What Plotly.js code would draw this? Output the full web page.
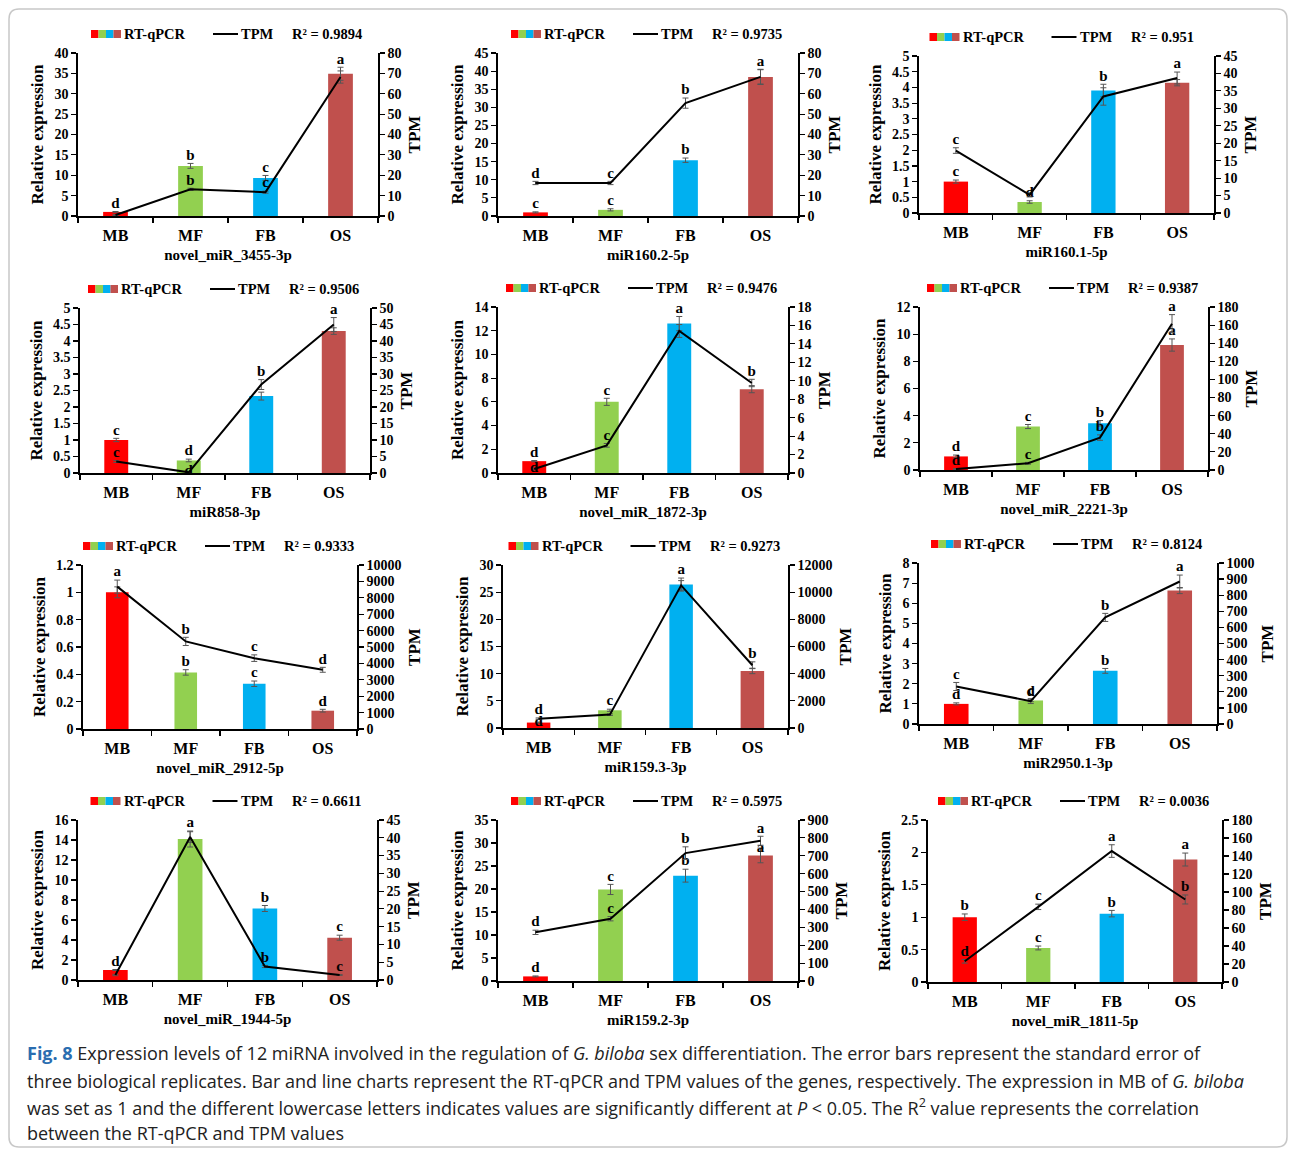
<!DOCTYPE html>
<html><head><meta charset="utf-8">
<script src="https://cdn.plot.ly/plotly-3.0.1.min.js"></script>
<style>body{margin:0;background:#fff}#chart{width:1290px;height:1151px}</style>
</head><body><div id="chart"></div>
<script>
// ---------- DATA ----------
const categories = ['MB', 'MF', 'FB', 'OS'];
const mirnaNames = ['novel_miR_3455-3p', 'miR160.2-5p', 'miR160.1-5p', 'miR858-3p', 'novel_miR_1872-3p', 'novel_miR_2221-3p',
  'novel_miR_2912-5p', 'miR159.3-3p', 'miR2950.1-3p', 'novel_miR_1944-5p', 'miR159.2-3p', 'novel_miR_1811-5p'];
const r2Values = ['0.9894', '0.9735', '0.951', '0.9506', '0.9476', '0.9387', '0.9333', '0.9273', '0.8124', '0.6611', '0.5975', '0.0036'];
const rtqpcr = [
  [1, 12.3, 9.35, 34.9],
  [1, 1.7, 15.4, 38.4],
  [1, 0.35, 3.9, 4.15],
  [1, 0.38, 2.33, 4.3],
  [1, 6.0, 12.6, 7.07],
  [1, 3.2, 3.44, 9.2],
  [1, 0.414, 0.331, 0.134],
  [1, 3.26, 26.4, 10.5],
  [1, 1.17, 2.64, 6.63],
  [1, 14.1, 7.15, 4.23],
  [1, 19.9, 22.9, 27.3],
  [1, 0.525, 1.055, 1.89]
];
const rtqpcrErr = [
  [0.1, 0.6, 0.6, 1.6],
  [0.15, 0.3, 0.6, 2.1],
  [0.05, 0.04, 0.2, 0.1],
  [0.05, 0.04, 0.12, 0.1],
  [0.05, 0.3, 0.6, 0.3],
  [0.1, 0.15, 0.2, 0.45],
  [0.04, 0.02, 0.02, 0.01],
  [0.1, 0.2, 1.2, 0.5],
  [0.05, 0.06, 0.12, 0.15],
  [0.05, 0.8, 0.3, 0.25],
  [0.1, 1.1, 1.4, 1.6],
  [0.05, 0.03, 0.05, 0.1]
];
const tpm = [
  [0.5, 13.1, 11.7, 68.2],
  [16.2, 16.2, 55.4, 68.3],
  [17.9, 5.2, 33.4, 38.7],
  [3.5, 0.2, 26.8, 45],
  [0.43, 3.0, 15.4, 9.76],
  [1, 7.4, 35.8, 161.6],
  [8680, 5340, 4320, 3610],
  [690, 985, 10500, 4620],
  [233, 142, 662, 885],
  [1.4, 40.2, 3.8, 1.4],
  [272, 348, 715, 784],
  [23, 83.5, 145.5, 91.7]
];
const tpmErr = [
  [0.3, 0.5, 0.5, 3],
  [0.8, 0.8, 2.5, 3.5],
  [0.8, 0.6, 2.5, 1.7],
  [0.3, 0.3, 1.5, 2.1],
  [0.1, 0.2, 0.7, 0.4],
  [0.5, 1, 3, 10],
  [400, 250, 200, 150],
  [50, 60, 350, 250],
  [25, 15, 25, 40],
  [0.2, 1.5, 0.3, 0.1],
  [12, 12, 35, 25],
  [2, 3, 7, 5]
];
const barLetters = [
  ['d', 'b', 'c', 'a'],
  ['c', 'c', 'b', 'a'],
  ['c', 'd', 'b', ''],
  ['c', 'd', '', ''],
  ['d', 'c', 'a', ''],
  ['d', 'c', 'b', 'a'],
  ['', 'b', 'c', 'd'],
  ['d', 'c', 'a', ''],
  ['d', 'd', 'b', ''],
  ['d', 'a', 'b', 'c'],
  ['d', 'c', 'b', 'a'],
  ['b', 'c', 'b', 'a']
];
const lineLetters = [
  ['', 'b', 'c', ''],
  ['d', 'c', 'b', ''],
  ['c', '', '', 'a'],
  ['c', 'd', 'b', 'a'],
  ['d', 'c', '', 'b'],
  ['d', 'c', 'b', 'a'],
  ['a', 'b', 'c', 'd'],
  ['d', '', '', 'b'],
  ['c', 'c', 'b', 'a'],
  ['', '', 'b', 'c'],
  ['d', 'c', 'b', 'a'],
  ['d', 'c', 'a', 'b']
];
const leftMax = [40, 45, 5, 5, 14, 12, 1.2, 30, 8, 16, 35, 2.5];
const leftStep = [5, 5, 0.5, 0.5, 2, 2, 0.2, 5, 1, 2, 5, 0.5];
const rightMax = [80, 80, 45, 50, 18, 180, 10000, 12000, 1000, 45, 900, 180];
const rightStep = [10, 10, 5, 5, 2, 20, 1000, 2000, 100, 5, 100, 20];

// ---------- STYLE / LAYOUT ----------
const barColors = ['#FF0000', '#92D050', '#00B0F0', '#C0504D'];
// label placement overrides (panel-index-category-series) -> textposition
const letterPosOverride = {'4-0-line': 'middle center', '10-3-bar': 'middle center', '3-1-line': 'middle center', '7-0-bar': 'middle center'};
const W = 1290, H = 1151;
const fx = p => p / W, fy = p => 1 - p / H;
const SERIF = 'Liberation Serif, Times New Roman, serif';
const boxes = [
  [78, 378, 53, 216], [498, 798, 53, 216], [919, 1214, 56, 213],
  [80, 370, 308, 473], [498, 788, 307, 473], [920, 1208, 307, 470],
  [83, 357, 565, 729], [503, 788, 565, 728], [919, 1217, 563, 724],
  [78, 377, 820, 980], [498, 798, 820, 981], [928, 1222, 820, 982]
];

const data = [];
const layout = {
  width: W, height: H, margin: {l: 0, r: 0, t: 0, b: 0},
  paper_bgcolor: '#fff', plot_bgcolor: 'rgba(0,0,0,0)', showlegend: false,
  font: {family: SERIF, size: 14, color: '#000', weight: 700},
  shapes: [], annotations: []
};

const axisCommon = {
  showline: true, linecolor: '#000', linewidth: 1.6, ticks: 'outside', ticklen: 5,
  tickwidth: 1.2, tickcolor: '#000', showgrid: false, zeroline: false, fixedrange: true
};

const posFor = (i, series) => categories.map((c, k) => letterPosOverride[i + '-' + k + '-' + series] || 'top center');

boxes.forEach((b, i) => {
  const [x0, x1, y0, y1] = b;
  const xa = i === 0 ? 'x' : 'x' + (i + 1);
  const yl = i === 0 ? 'y' : 'y' + (2 * i + 1);
  const yr = 'y' + (2 * i + 2);
  const xk = i === 0 ? 'xaxis' : 'xaxis' + (i + 1);
  const ylk = i === 0 ? 'yaxis' : 'yaxis' + (2 * i + 1);
  const yrk = 'yaxis' + (2 * i + 2);

  layout[xk] = Object.assign({}, axisCommon, {
    domain: [fx(x0), fx(x1)], anchor: yl, type: 'category',
    categoryorder: 'array', categoryarray: categories, range: [-0.5, 3.5],
    tickson: 'boundaries', ticklabelstandoff: 4, tickfont: {size: 16, family: SERIF, weight: 700},
    title: {text: mirnaNames[i], font: {size: 15, family: SERIF, weight: 700}, standoff: 7}
  });
  layout[ylk] = Object.assign({}, axisCommon, {
    domain: [fy(y1), fy(y0)], anchor: xa, range: [0, leftMax[i]], tick0: 0, dtick: leftStep[i],
    exponentformat: 'none', tickfont: {size: 14, family: SERIF, weight: 700},
    title: {text: 'Relative expression', font: {size: 17, family: SERIF, weight: 700}, standoff: 6}
  });
  layout[yrk] = Object.assign({}, axisCommon, {
    anchor: xa, overlaying: yl, side: 'right', range: [0, rightMax[i]], tick0: 0, dtick: rightStep[i],
    tickformat: 'd', tickfont: {size: 14, family: SERIF, weight: 700},
    title: {text: 'TPM', font: {size: 17, family: SERIF, weight: 700}, standoff: 7}
  });

  data.push({
    type: 'bar', x: categories, y: rtqpcr[i], xaxis: xa, yaxis: yl, width: 0.33,
    marker: {color: barColors, line: {width: 0}},
    error_y: {type: 'data', array: rtqpcrErr[i], visible: true, color: '#555', thickness: 1, width: 3},
    hoverinfo: 'skip'
  });
  data.push({
    type: 'scatter', mode: 'text', x: categories, xaxis: xa, yaxis: yl,
    y: rtqpcr[i].map((v, k) => v + rtqpcrErr[i][k]), text: barLetters[i],
    textposition: posFor(i, 'bar'), textfont: {size: 15, family: SERIF, weight: 700, color: '#000'},
    cliponaxis: false, hoverinfo: 'skip'
  });
  data.push({
    type: 'scatter', mode: 'lines', x: categories, y: tpm[i], xaxis: xa, yaxis: yr,
    line: {color: '#000', width: 2},
    error_y: {type: 'data', array: tpmErr[i], visible: true, color: '#555', thickness: 1, width: 3},
    hoverinfo: 'skip', cliponaxis: false
  });
  data.push({
    type: 'scatter', mode: 'text', x: categories, xaxis: xa, yaxis: yr,
    y: tpm[i].map((v, k) => v + tpmErr[i][k]), text: lineLetters[i],
    textposition: posFor(i, 'line'), textfont: {size: 15, family: SERIF, weight: 700, color: '#000'},
    cliponaxis: false, hoverinfo: 'skip'
  });

  // legend row for this panel
  const cx = (x0 + x1) / 2, ly = y0 - 19;
  barColors.forEach((c, k) => {
    layout.shapes.push({type: 'rect', xref: 'paper', yref: 'paper',
      x0: fx(cx - 137 + k * 7.5), x1: fx(cx - 137 + (k + 1) * 7.5),
      y0: fy(ly + 4), y1: fy(ly - 4), fillcolor: c, line: {width: 0}});
  });
  layout.shapes.push({type: 'line', xref: 'paper', yref: 'paper',
    x0: fx(cx - 15), x1: fx(cx + 10), y0: fy(ly), y1: fy(ly), line: {color: '#000', width: 2}});
  const legFont = {size: 14.5, family: SERIF, weight: 700, color: '#000'};
  layout.annotations.push({xref: 'paper', yref: 'paper', x: fx(cx - 106), y: fy(ly), xanchor: 'left', yanchor: 'middle',
    text: 'RT-qPCR', showarrow: false, font: legFont});
  layout.annotations.push({xref: 'paper', yref: 'paper', x: fx(cx + 11), y: fy(ly), xanchor: 'left', yanchor: 'middle',
    text: 'TPM', showarrow: false, font: legFont});
  layout.annotations.push({xref: 'paper', yref: 'paper', x: fx(cx + 62), y: fy(ly), xanchor: 'left', yanchor: 'middle',
    text: 'R² = ' + r2Values[i], showarrow: false, font: legFont});
});

// caption
const captionLines = [
  '<span style="color:#2a6db0"><b>Fig. 8</b></span> Expression levels of 12 miRNA involved in the regulation of <i>G. biloba</i> sex differentiation. The error bars represent the standard error of',
  'three biological replicates. Bar and line charts represent the RT-qPCR and TPM values of the genes, respectively. The expression in MB of <i>G. biloba</i>',
  'was set as 1 and the different lowercase letters indicates values are significantly different at <i>P</i> &lt; 0.05. The R<sup>2</sup> value represents the correlation',
  'between the RT-qPCR and TPM values'
];
const capY = [1053, 1081, 1107, 1133];
captionLines.forEach((t, k) => {
  layout.annotations.push({xref: 'paper', yref: 'paper', x: fx(25), y: fy(capY[k]), xanchor: 'left', yanchor: 'middle',
    text: t, showarrow: false, font: {size: 18, family: 'Open Sans, Noto Sans, sans-serif', weight: 400, color: '#222'}});
});

// outer frame
const r = 10, fl = 9, ft = 9, fr = 1287, fb = 1147;
layout.shapes.push({type: 'path', xref: 'paper', yref: 'paper', line: {color: '#c8c8c8', width: 1.5},
  path: `M ${fx(fl)},${fy(fb - r)} L ${fx(fl)},${fy(ft + r)} Q ${fx(fl)},${fy(ft)} ${fx(fl + r)},${fy(ft)} L ${fx(fr - r)},${fy(ft)} Q ${fx(fr)},${fy(ft)} ${fx(fr)},${fy(ft + r)} L ${fx(fr)},${fy(fb - r)} Q ${fx(fr)},${fy(fb)} ${fx(fr - r)},${fy(fb)} L ${fx(fl + r)},${fy(fb)} Q ${fx(fl)},${fy(fb)} ${fx(fl)},${fy(fb - r)} Z`});

Plotly.newPlot('chart', data, layout, {displayModeBar: false, staticPlot: true});
</script>
</body></html>
